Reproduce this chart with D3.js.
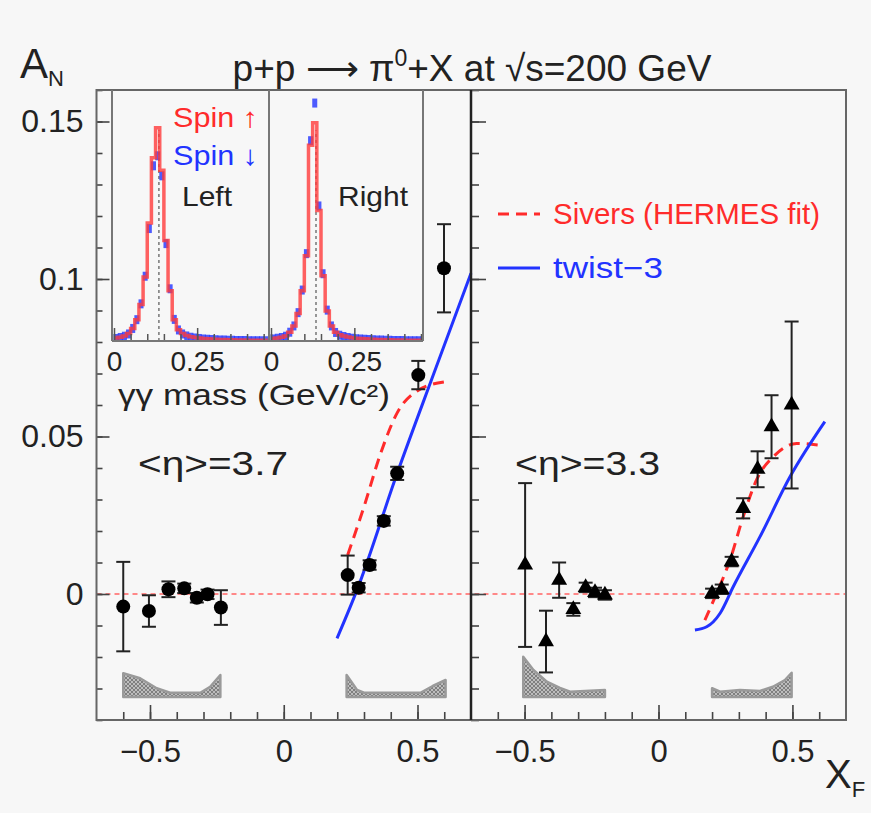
<!DOCTYPE html>
<html>
<head>
<meta charset="utf-8">
<script src="https://cdn.jsdelivr.net/npm/d3@7"></script>
<style>
  body { margin: 0; background: #f7f7f7; }
  text { font-family: "Liberation Sans", Arial, sans-serif; fill: #222; }
</style>
</head>
<body>
<script>
// ---- data ----
// left panel, <eta>=3.7 (circles)
const leftNegX = [-0.60, -0.504, -0.431, -0.372, -0.325, -0.285, -0.235];
const leftNegY = [-0.004, -0.0054, 0.0015, 0.0018, -0.0012, -0.0001, -0.0043];
const leftNegErr = [0.0142, 0.005, 0.0025, 0.0015, 0.0015, 0.0015, 0.0055];
const leftPosX = [0.239, 0.28, 0.321, 0.374, 0.424, 0.503, 0.599];
const leftPosY = [0.006, 0.002, 0.0092, 0.0232, 0.0383, 0.0695, 0.1034];
const leftPosErr = [0.0062, 0.0015, 0.0015, 0.0015, 0.0021, 0.0045, 0.014];

// right panel, <eta>=3.3 (triangles)
const rightNegX = [-0.498, -0.42, -0.371, -0.318, -0.272, -0.237, -0.2];
const rightNegY = [0.0092, -0.0151, 0.0044, -0.0049, 0.0021, 0.0005, -0.0003];
const rightNegErr = [0.026, 0.0098, 0.0056, 0.002, 0.0015, 0.0015, 0.0015];
const rightPosX = [0.2, 0.236, 0.273, 0.316, 0.37, 0.422, 0.497];
const rightPosY = [0.0002, 0.0015, 0.0103, 0.0272, 0.0396, 0.0531, 0.060];
const rightPosErr = [0.0015, 0.0015, 0.0015, 0.0032, 0.0057, 0.010, 0.0265];

// theory curves
const siversLeftX = [0.239, 0.30, 0.362, 0.424, 0.505, 0.605];
const siversLeftY = [0.0124, 0.0277, 0.0446, 0.0575, 0.0648, 0.0674];
const twistLeftX = [0.199, 0.274, 0.424, 0.561, 0.70];
const twistLeftY = [-0.0141, 0.0013, 0.0383, 0.070, 0.1018];
const siversRightX = [0.173, 0.217, 0.267, 0.316, 0.366, 0.435, 0.516, 0.597];
const siversRightY = [-0.0083, 0.0002, 0.0108, 0.0245, 0.0362, 0.0441, 0.0478, 0.0473];
const twistRightX = [0.136, 0.18, 0.23, 0.279, 0.379, 0.491, 0.621];
const twistRightY = [-0.0114, -0.0104, -0.0061, 0.0023, 0.0182, 0.0372, 0.0547];

// xF acceptance shapes (arbitrary height)
const accLeftNegX = [-0.60, -0.537, -0.475, -0.425, -0.312, -0.275, -0.237];
const accLeftNegH = [0.95, 0.75, 0.35, 0.17, 0.17, 0.41, 0.88];
const accLeftPosX = [0.235, 0.274, 0.30, 0.511, 0.557, 0.605];
const accLeftPosH = [0.88, 0.28, 0.17, 0.17, 0.44, 0.68];
const accRightNegX = [-0.505, -0.467, -0.417, -0.368, -0.33, -0.2];
const accRightNegH = [1.61, 1.08, 0.61, 0.36, 0.21, 0.28];
const accRightPosX = [0.2, 0.23, 0.304, 0.379, 0.427, 0.472, 0.497];
const accRightPosH = [0.35, 0.21, 0.28, 0.24, 0.41, 0.68, 0.97];

// inset: gamma-gamma mass histograms, bins of 0.0125 GeV/c^2
const binW = 0.0125;
const leftUp = [0.012,0.015,0.02,0.03,0.05,0.085,0.145,0.255,0.47,0.73,0.85,0.68,0.40,0.20,0.085,0.045,0.03,0.022,0.017,0.014,0.012,0.01,0.009,0.008,0.007,0.006,0.006,0.005,0.005,0.004,0.004,0.004,0.003,0.003,0.003,0.003,0.003];
const leftDown = [0.012,0.016,0.021,0.03,0.052,0.087,0.15,0.26,0.45,0.70,0.74,0.66,0.39,0.21,0.088,0.046,0.03,0.022,0.017,0.014,0.012,0.01,0.009,0.008,0.007,0.006,0.006,0.005,0.005,0.004,0.004,0.004,0.003,0.003,0.003,0.003,0.003];
const rightUp = [0.01,0.012,0.015,0.02,0.035,0.06,0.11,0.20,0.34,0.78,0.87,0.52,0.26,0.12,0.06,0.035,0.025,0.02,0.016,0.013,0.011,0.01,0.009,0.008,0.007,0.006,0.006,0.005,0.005,0.004,0.004,0.004,0.003,0.003,0.003,0.003,0.003];
const rightDown = [0.01,0.013,0.016,0.021,0.037,0.062,0.115,0.205,0.35,0.80,0.95,0.54,0.27,0.125,0.062,0.036,0.025,0.02,0.016,0.013,0.011,0.01,0.009,0.008,0.007,0.006,0.006,0.005,0.005,0.004,0.004,0.004,0.003,0.003,0.003,0.003,0.003];
const pi0Mass = 0.135;

// tick labels
const xMajor = [-0.5, 0, 0.5];
const yMajor = [0, 0.05, 0.1, 0.15];
const insetMajor = [0, 0.25];

// ---- layout ----
const W = 871, H = 813;
const L = 96.5, R = 846, T = 90, B = 720, MID = 471;
const RED = "#ff2b2b", BLUE = "#2233ff";

const svg = d3.select("body").append("svg").attr("width", W).attr("height", H);
svg.append("rect").attr("width", W).attr("height", H).attr("fill", "#f7f7f7");

const defs = svg.append("defs");
const pat = defs.append("pattern").attr("id", "hatch")
  .attr("width", 4).attr("height", 4).attr("patternUnits", "userSpaceOnUse");
pat.append("rect").attr("width", 4).attr("height", 4).attr("fill", "#bdbdbd");
pat.append("path").attr("d", "M0,0L4,4M4,0L0,4").attr("stroke", "#6f6f6f").attr("stroke-width", 0.8);

const y = d3.scaleLinear().domain([-0.04, 0.16]).range([B, T]);
const xLeft = d3.scaleLinear().domain([-0.7, 0.7]).range([L, MID]);
const xRight = d3.scaleLinear().domain([-0.7, 0.7]).range([MID, R]);
const accY = d3.scaleLinear().domain([0, 1]).range([697, 672]);

const minorY = d3.range(-4, 17).map(i => i / 100);
const minorX = d3.range(-6, 7).map(i => i / 10);

function panel(x, isLeft) {
  const g = svg.append("g");
  // y ticks (inward)
  const yAt = isLeft ? L : MID;
  g.append("g").attr("transform", `translate(${yAt},0)`)
    .call(d3.axisRight(y).tickValues(minorY).tickSize(isLeft ? 6 : 8).tickFormat(""))
    .call(a => a.select(".domain").remove());
  g.append("g").attr("transform", `translate(${yAt},0)`)
    .call(d3.axisRight(y).tickValues(yMajor).tickSize(isLeft ? 13 : 15).tickFormat(""))
    .call(a => a.select(".domain").remove());
  // x ticks (inward)
  g.append("g").attr("transform", `translate(0,${B})`)
    .call(d3.axisTop(x).tickValues(minorX).tickSize(8).tickFormat(""))
    .call(a => a.select(".domain").remove());
  g.append("g").attr("transform", `translate(0,${B})`)
    .call(d3.axisTop(x).tickValues(xMajor).tickSize(15).tickFormat(""))
    .call(a => a.select(".domain").remove());
  g.selectAll(".tick line").attr("stroke", "#444").attr("stroke-width", 1.6);
  // x labels
  g.append("g").attr("transform", `translate(0,${B})`)
    .call(d3.axisBottom(x).tickValues(xMajor).tickSize(0).tickPadding(20)
      .tickFormat(d => d === 0 ? "0" : d3.format(".1f")(d)))
    .call(a => a.select(".domain").remove())
    .selectAll("text").attr("font-size", 31).attr("fill", "#222");
  return g;
}

// zero line
svg.append("line").attr("x1", L).attr("x2", R).attr("y1", y(0)).attr("y2", y(0))
  .attr("stroke", "#f88").attr("stroke-width", 2).attr("stroke-dasharray", "5,4");

panel(xLeft, true);
panel(xRight, false);

// y labels
svg.append("g").attr("transform", `translate(${L},0)`)
  .call(d3.axisLeft(y).tickValues(yMajor).tickSize(0).tickPadding(13).tickFormat(d3.format("~g")))
  .call(a => a.select(".domain").remove())
  .selectAll("text").attr("font-size", 32).attr("fill", "#222");

// acceptance shapes
function acc(x, xs, hs) {
  const pts = xs.map((v, i) => [v, hs[i]]);
  const area = d3.area().x(d => x(d[0])).y0(accY(0)).y1(d => accY(d[1]));
  svg.append("path").attr("d", area(pts)).attr("fill", "url(#hatch)")
    .attr("stroke", "#9a9a9a").attr("stroke-width", 2.5).attr("stroke-linejoin", "round");
}
acc(xLeft, accLeftNegX, accLeftNegH);
acc(xLeft, accLeftPosX, accLeftPosH);
acc(xRight, accRightNegX, accRightNegH);
acc(xRight, accRightPosX, accRightPosH);

// curves
function curve(x, xs, ys, color, dash) {
  const line = d3.line().x(d => x(d[0])).y(d => y(d[1])).curve(d3.curveMonotoneX);
  svg.append("path").attr("d", line(xs.map((v, i) => [v, ys[i]])))
    .attr("fill", "none").attr("stroke", color).attr("stroke-width", 3)
    .attr("stroke-dasharray", dash || null);
}
curve(xLeft, siversLeftX, siversLeftY, RED, "11,7");
curve(xLeft, twistLeftX, twistLeftY, BLUE);
curve(xRight, siversRightX, siversRightY, RED, "11,7");
curve(xRight, twistRightX, twistRightY, BLUE);

// data points
function points(x, xs, ys, es, sym) {
  const data = xs.map((v, i) => ({ x: v, y: ys[i], e: es[i] }));
  const g = svg.append("g").attr("stroke", "#222").attr("stroke-width", 2);
  data.forEach(d => {
    const cx = x(d.x);
    g.append("line").attr("x1", cx).attr("x2", cx).attr("y1", y(d.y - d.e)).attr("y2", y(d.y + d.e));
    [d.y - d.e, d.y + d.e].forEach(v => {
      g.append("line").attr("x1", cx - 7).attr("x2", cx + 7).attr("y1", y(v)).attr("y2", y(v));
    });
  });
  if (sym === "circle") {
    svg.append("g").selectAll("circle").data(data).join("circle")
      .attr("cx", d => x(d.x)).attr("cy", d => y(d.y)).attr("r", 7).attr("fill", "#000");
  } else {
    svg.append("g").selectAll("path").data(data).join("path")
      .attr("d", d3.symbol(d3.symbolTriangle).size(110))
      .attr("transform", d => `translate(${x(d.x)},${y(d.y)})`).attr("fill", "#000");
  }
}
points(xLeft, leftNegX, leftNegY, leftNegErr, "circle");
points(xLeft, leftPosX, leftPosY, leftPosErr, "circle");
points(xRight, rightNegX, rightNegY, rightNegErr, "tri");
points(xRight, rightPosX, rightPosY, rightPosErr, "tri");

// frame
svg.append("rect").attr("x", L).attr("y", T).attr("width", R - L).attr("height", B - T)
  .attr("fill", "none").attr("stroke", "#666").attr("stroke-width", 2);
svg.append("line").attr("x1", MID).attr("x2", MID).attr("y1", T).attr("y2", B)
  .attr("stroke", "#222").attr("stroke-width", 2.5);

// ---- inset ----
const IL = 112, IM = 269, IR = 423, IB = 341;
const iy = d3.scaleLinear().domain([0, 1]).range([IB, T]);
const ixL = d3.scaleLinear().domain([-0.006, 0.466]).range([IL, IM]);
const ixR = d3.scaleLinear().domain([-0.006, 0.456]).range([IM, IR]);

function hist(ix, up, down, id, x0, x1) {
  defs.append("clipPath").attr("id", id).append("rect")
    .attr("x", x0).attr("y", T).attr("width", x1 - x0).attr("height", IB - T);
  const g = svg.append("g").attr("clip-path", `url(#${id})`);
  const step = d3.line().x(d => ix(d[0])).y(d => iy(d[1])).curve(d3.curveStepAfter);
  const pts = h => h.map((v, i) => [i * binW, v]).concat([[h.length * binW, h[h.length - 1]]]);
  g.append("line").attr("x1", ix(pi0Mass)).attr("x2", ix(pi0Mass))
    .attr("y1", IB).attr("y2", iy(0.84)).attr("stroke", "#777")
    .attr("stroke-width", 1.5).attr("stroke-dasharray", "3,3");
  // spin-down points as small marks at bin centres
  g.selectAll("rect.dn").data(down).join("rect").attr("class", "dn")
    .attr("x", (d, i) => ix((i + 0.5) * binW) - 2.5).attr("y", d => iy(d) - 4)
    .attr("width", 5).attr("height", 9).attr("fill", BLUE).attr("opacity", 0.8);
  g.append("path").attr("d", step(pts(up))).attr("fill", "none")
    .attr("stroke", "#ff3a3a").attr("stroke-width", 3.5).attr("opacity", 0.8);
  // ticks
  svg.append("g").attr("transform", `translate(0,${IB})`)
    .call(d3.axisTop(ix).tickValues(d3.range(0, 10).map(i => i * 0.05)).tickSize(7).tickFormat(""))
    .call(a => a.select(".domain").remove())
    .selectAll("line").attr("stroke", "#555").attr("stroke-width", 1.5);
  svg.append("g").attr("transform", `translate(0,${IB})`)
    .call(d3.axisTop(ix).tickValues(insetMajor).tickSize(13).tickFormat(""))
    .call(a => a.select(".domain").remove())
    .selectAll("line").attr("stroke", "#555").attr("stroke-width", 1.5);
  svg.append("g").attr("transform", `translate(0,${IB})`)
    .call(d3.axisBottom(ix).tickValues(insetMajor).tickSize(0).tickPadding(10)
      .tickFormat(d => d === 0 ? "0" : "0.25"))
    .call(a => a.select(".domain").remove())
    .selectAll("text").attr("font-size", 28).attr("fill", "#222");
}
hist(ixL, leftUp, leftDown, "clipL", IL, IM);
hist(ixR, rightUp, rightDown, "clipR", IM, IR);

const inset = svg.append("g").attr("stroke", "#777").attr("stroke-width", 2);
[IL, IM, IR].forEach(xx => inset.append("line").attr("x1", xx).attr("x2", xx).attr("y1", T).attr("y2", IB));
inset.append("line").attr("x1", IL).attr("x2", IR).attr("y1", IB).attr("y2", IB);

function label(x, yy, size, str, color, len) {
  const t = svg.append("text").attr("x", x).attr("y", yy).attr("font-size", size).text(str);
  if (color) t.style("fill", color);
  if (len) t.attr("textLength", len).attr("lengthAdjust", "spacingAndGlyphs");
  return t;
}
label(173, 127, 28, "Spin \u2191", RED, 85);
label(173, 165, 28, "Spin \u2193", BLUE, 85);
label(182, 206, 28, "Left", null, 50);
label(338, 206, 28, "Right", null, 70);
label(118, 405, 29, "\u03b3\u03b3 mass (GeV/c\u00b2)", null, 272);

// ---- labels ----
label(138, 475, 33, "<\u03b7>=3.7", null, 150);
label(515, 475, 33, "<\u03b7>=3.3", null, 145);

// legend
svg.append("line").attr("x1", 498).attr("x2", 540).attr("y1", 214).attr("y2", 214)
  .attr("stroke", RED).attr("stroke-width", 3).attr("stroke-dasharray", "11,7");
label(553, 224, 29, "Sivers (HERMES fit)", RED, 267);
svg.append("line").attr("x1", 498).attr("x2", 540).attr("y1", 268).attr("y2", 268)
  .attr("stroke", BLUE).attr("stroke-width", 3);
label(553, 278, 29, "twist\u22123", BLUE, 110);

// title
const title = svg.append("text").attr("x", 472).attr("y", 81).attr("font-size", 37).attr("text-anchor", "middle");
title.append("tspan").text("p+p \u27f6 \u03c0");
title.append("tspan").attr("font-size", 23).attr("dy", -15).text("0");
title.append("tspan").attr("dy", 15).text("+X at \u221as=200 GeV");

// axis titles
const an = svg.append("text").attr("x", 20).attr("y", 78).attr("font-size", 42);
an.append("tspan").text("A");
an.append("tspan").attr("font-size", 22).attr("dy", 8).text("N");
const xf = svg.append("text").attr("x", 825).attr("y", 788).attr("font-size", 40);
xf.append("tspan").text("X");
xf.append("tspan").attr("font-size", 22).attr("dy", 9).text("F");
</script>
</body>
</html>
